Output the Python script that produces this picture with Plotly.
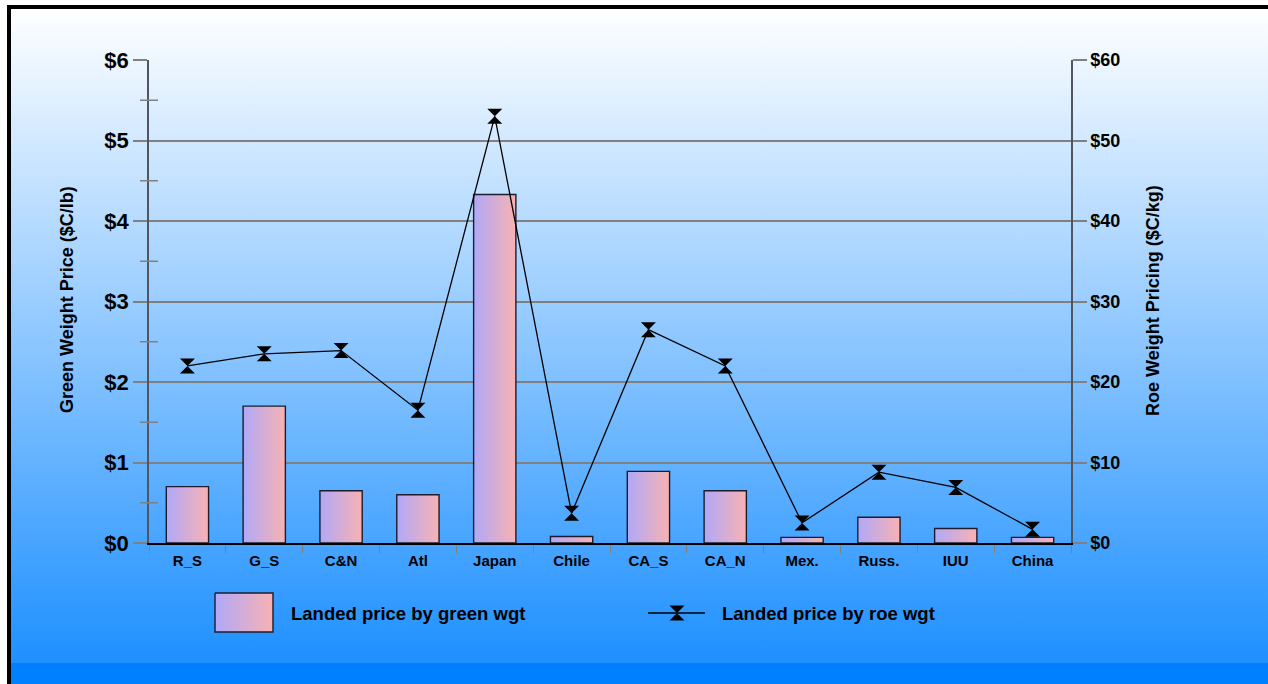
import plotly.graph_objects as go

W, H = 1268, 684

# ---- data ----
categories = ["R_S", "G_S", "C&N", "Atl", "Japan", "Chile",
              "CA_S", "CA_N", "Mex.", "Russ.", "IUU", "China"]
green_price = [0.70, 1.70, 0.65, 0.60, 4.33, 0.08, 0.89, 0.65, 0.07, 0.32, 0.18, 0.07]
roe_price = [22.0, 23.5, 23.9, 16.5, 53.0, 3.7, 26.5, 22.0, 2.5, 8.8, 6.9, 1.7]
left_ticks = [0, 1, 2, 3, 4, 5, 6]
right_ticks = [0, 10, 20, 30, 40, 50, 60]
left_minor = [0.5, 1.5, 2.5, 3.5, 4.5, 5.5]

FONT = "Liberation Sans, Arial, sans-serif"
BAR_SCALE = [[0, "#b0a8f8"], [1, "#f8b2b2"]]
GRID = "#808080"
AXIS = "#505560"


def px(x):
    return x / W


def py(y):
    return 1 - y / H


# plot area in pixels
L, R, T, B = 149, 1071, 60, 543

fig = go.Figure()

# ---- page background (pixel-space helper axes x/y) ----
fig.add_trace(go.Scatter(
    x=[11, W, W, 11, 11], y=[9, 9, 663, 663, 9],
    xaxis="x", yaxis="y", mode="none", fill="toself",
    fillgradient=dict(type="vertical", start=9, stop=663,
                      colorscale=[[0, "#ffffff"], [1, "#1e90ff"]]),
    hoverinfo="skip", showlegend=False))
fig.add_trace(go.Scatter(
    x=[11, W, W, 11, 11], y=[663, 663, H, H, 663],
    xaxis="x", yaxis="y", mode="none", fill="toself", fillcolor="#0080ff",
    hoverinfo="skip", showlegend=False))

# ---- custom legend ----
fig.add_trace(go.Scatter(
    x=[215, 273, 273, 215, 215], y=[593, 593, 632, 632, 593],
    xaxis="x", yaxis="y", mode="lines", fill="toself",
    line=dict(color="#1c1c2c", width=1.4),
    fillgradient=dict(type="horizontal", colorscale=BAR_SCALE),
    hoverinfo="skip", showlegend=False))
fig.add_trace(go.Scatter(
    x=[648, 705], y=[613, 613], xaxis="x", yaxis="y", mode="lines",
    line=dict(color="black", width=1.3), hoverinfo="skip", showlegend=False))
fig.add_trace(go.Scatter(
    x=[677], y=[613], xaxis="x", yaxis="y", mode="markers",
    marker=dict(symbol="hourglass", size=15, color="black"),
    hoverinfo="skip", showlegend=False))

# ---- bars: green weight price (left axis) ----
bw = 0.55
for i, v in enumerate(green_price):
    x0, x1 = i - bw / 2, i + bw / 2
    fig.add_trace(go.Scatter(
        x=[x0, x1, x1, x0, x0], y=[0, 0, v, v, 0],
        xaxis="x2", yaxis="y2", mode="lines", fill="toself",
        line=dict(color="#1c1c2c", width=1.4),
        fillgradient=dict(type="horizontal", colorscale=BAR_SCALE),
        name=categories[i], hovertemplate="%{text}", text=[f"${v:.2f}"] * 5,
        showlegend=False))

# ---- line: roe weight price (right axis) ----
fig.add_trace(go.Scatter(
    x=list(range(len(categories))), y=roe_price,
    xaxis="x2", yaxis="y3", mode="lines+markers",
    line=dict(color="black", width=1.3),
    marker=dict(symbol="hourglass", size=15, color="black"),
    name="Landed price by roe wgt", showlegend=False))

shapes = []
# top border of the plot area at the $6 level
shapes.append(dict(type="line", xref="x2 domain", yref="y2",
                   x0=0, x1=1, y0=6, y1=6,
                   line=dict(color=GRID, width=1.5), layer="below"))
# cross-style minor ticks on the left axis
for m in left_minor:
    shapes.append(dict(type="line", xref="paper", yref="y2",
                       x0=px(140), x1=px(158), y0=m, y1=m,
                       line=dict(color=GRID, width=1.5)))
# page frame
shapes.append(dict(type="rect", xref="paper", yref="paper",
                   x0=px(7), x1=1, y0=py(9), y1=py(5),
                   fillcolor="black", line=dict(width=0), layer="above"))
shapes.append(dict(type="rect", xref="paper", yref="paper",
                   x0=px(7), x1=px(11), y0=0, y1=py(5),
                   fillcolor="black", line=dict(width=0), layer="above"))


def label(text, x, y, size, angle=0, xanchor="center"):
    return dict(text=text, x=px(x), y=py(y), xref="paper", yref="paper",
                xanchor=xanchor, yanchor="middle", textangle=angle,
                showarrow=False,
                font=dict(family=FONT, size=size, color="black", weight="bold"))


annotations = [
    label("Green Weight Price ($C/lb)", 67, 300, 18, angle=-90),
    label("Roe Weight Pricing ($C/kg)", 1153, 301, 18, angle=-90),
    label("Landed price by green wgt", 289, 613, 18.5, xanchor="left"),
    label("Landed price by roe wgt", 720, 613, 18.5, xanchor="left"),
]

fig.update_layout(
    width=W, height=H, autosize=False,
    margin=dict(l=0, r=0, t=0, b=0, pad=0, autoexpand=False),
    paper_bgcolor="white", plot_bgcolor="rgba(0,0,0,0)",
    showlegend=False, hovermode="closest",
    font=dict(family=FONT, color="black"),
    xaxis=dict(domain=[0, 1], range=[0, W], visible=False, fixedrange=True),
    yaxis=dict(domain=[0, 1], range=[H, 0], visible=False, fixedrange=True),
    xaxis2=dict(
        domain=[px(L), px(R)], anchor="y2", range=[-0.5, len(categories) - 0.5],
        tickmode="array", tickvals=list(range(len(categories))), ticktext=categories,
        ticks="", showgrid=False, zeroline=False,
        showline=True, linecolor="black", linewidth=1.5,
        tickfont=dict(family=FONT, size=15, color="black", weight="bold"),
        ticklabelstandoff=3,
        minor=dict(tickmode="array",
                   tickvals=[i - 0.5 for i in range(len(categories) + 1)],
                   ticks="outside", ticklen=8, tickcolor=GRID, tickwidth=1,
                   showgrid=False),
        fixedrange=True),
    yaxis2=dict(
        domain=[py(B), py(T)], anchor="x2", range=[0, 6],
        tickmode="array", tickvals=left_ticks,
        ticktext=[f"${v}" for v in left_ticks],
        ticks="outside", ticklen=14, tickcolor=GRID, tickwidth=1.5,
        showgrid=True, gridcolor=GRID, gridwidth=1.5, zeroline=False,
        showline=True, linecolor=AXIS, linewidth=1.5,
        tickfont=dict(family=FONT, size=22, color="black", weight="bold"),
        fixedrange=True),
    yaxis3=dict(
        overlaying="y2", side="right", anchor="x2", range=[0, 60],
        tickmode="array", tickvals=right_ticks,
        ticktext=[f"${v}" for v in right_ticks],
        ticks="outside", ticklen=14, tickcolor=GRID, tickwidth=1.5,
        showgrid=False, zeroline=False,
        showline=True, linecolor=AXIS, linewidth=1.5,
        tickfont=dict(family=FONT, size=18, color="black", weight="bold"),
        fixedrange=True),
    shapes=shapes,
    annotations=annotations,
)

fig.write_html("out.html")
